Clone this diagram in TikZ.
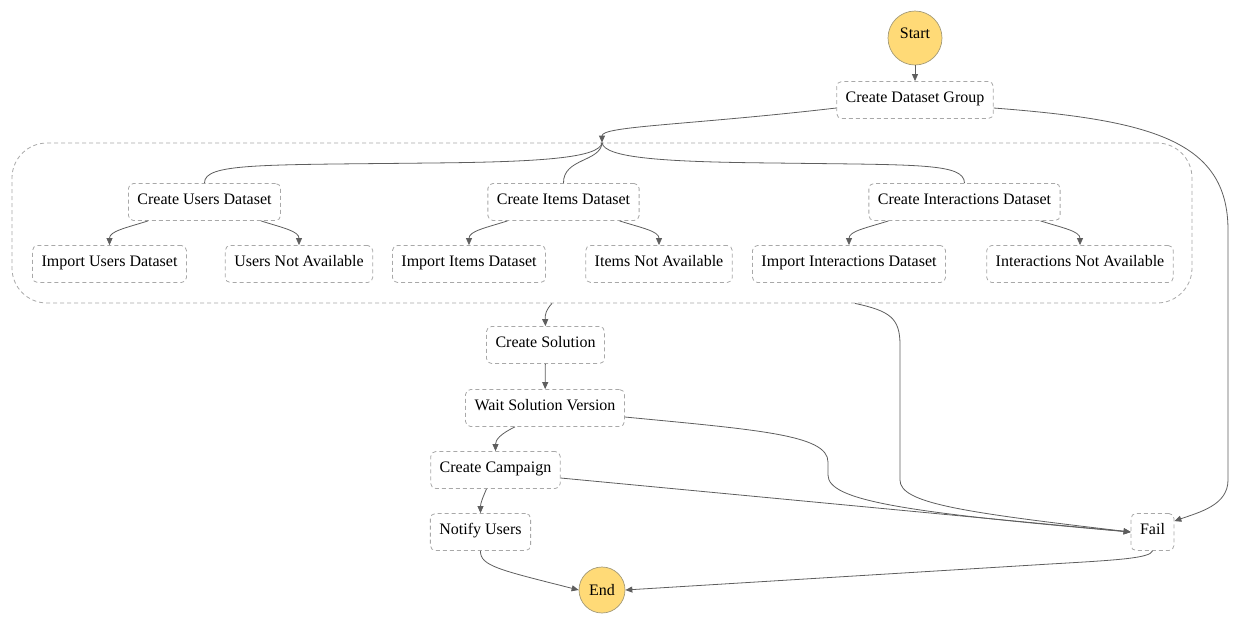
\documentclass[tikz,border=0pt]{standalone}
\usepackage{fontspec}
\setmainfont{Liberation Serif}
\usetikzlibrary{arrows.meta}
\definecolor{boxline}{HTML}{A8A8A8}
\definecolor{edgeline}{HTML}{5E5E5E}
\definecolor{termfill}{HTML}{FFDA77}
\definecolor{termline}{HTML}{A39A78}
\tikzset{
  state/.style={draw=boxline, dashed, dash pattern=on 4pt off 3pt, line width=0.8pt,
    rounded corners=5pt, inner xsep=9pt, minimum height=37pt,
    text height=11pt, text depth=6pt,
    font=\fontsize{16}{19}\selectfont},
  term/.style={circle, draw=termline, fill=termfill, line width=0.7pt, inner sep=0pt,
    font=\fontsize{16}{19}\selectfont},
  groupbox/.style={draw=boxline, dashed, dash pattern=on 4pt off 3pt, line width=0.8pt,
    rounded corners=35pt},
  edge/.style={draw=edgeline, line width=0.8pt},
  flow/.style={edge, -{Triangle[length=7pt,width=6pt]}}
}
\begin{document}
\begin{tikzpicture}[x=1pt,y=-1pt]
\useasboundingbox (0,0) rectangle (1240,630);

% terminals
\node[term, minimum size=54pt, text height=11pt, text depth=10pt] (start) at (915,38) {Start};
\node[term, minimum size=46pt] (end) at (602,590) {End};

% setup
\node[state] (cdg) at (915,100) {Create Dataset Group};

% parallel dataset branches
\node[groupbox, minimum width=1180pt, minimum height=160pt] (grp) at (602,223) {};
\node[state] (cud) at (204.5,202) {Create Users Dataset};
\node[state] (cid) at (563.5,202) {Create Items Dataset};
\node[state] (cxd) at (964.5,202) {Create Interactions Dataset};
\node[state] (iud) at (109.5,264) {Import Users Dataset};
\node[state] (una) at (299,264) {Users Not Available};
\node[state] (iid) at (469,264) {Import Items Dataset};
\node[state] (ina) at (659,264) {Items Not Available};
\node[state] (ixd) at (849,264) {Import Interactions Dataset};
\node[state] (xna) at (1080,264) {Interactions Not Available};

% training and deployment
\node[state] (cs) at (545.5,345) {Create Solution};
\node[state] (wsv) at (545,408) {Wait Solution Version};
\node[state] (cc) at (495.5,470) {Create Campaign};
\node[state] (nu) at (480.5,532) {Notify Users};
\node[state] (fail) at (1152.5,532) {Fail};

% main flow
\draw[flow] (start) -- (cdg);
\draw[flow] ([yshift=-8pt]cdg.west) .. controls (690,125) and (602,126) .. (grp.north);

% fan-out inside the group
\draw[edge] (grp.north) .. controls (600,158) and (540,162) .. (430,163)
  .. controls (260,165) and (204,163) .. (cud.north);
\draw[edge] (grp.north) .. controls (601,162) and (563,158) .. (cid.north);
\draw[edge] (grp.north) .. controls (604,158) and (664,162) .. (774,163)
  .. controls (920,165) and (964,163) .. (cxd.north);

\foreach \src/\l/\r in {cud/iud/una, cid/iid/ina, cxd/ixd/xna}{
  \draw[flow] ([xshift=20pt]\src.south west) .. controls +(-22,7) and +(0,-14) .. (\l.north);
  \draw[flow] ([xshift=-20pt]\src.south east) .. controls +(22,7) and +(0,-14) .. (\r.north);
}

\draw[flow] ([xshift=-50pt]grp.south) .. controls (546,310) and (545,314) .. (cs.north);
\draw[flow] (cs) -- (wsv);
\draw[flow] ([xshift=-30pt]wsv.south) .. controls (500,434) and (495.5,440) .. (cc.north);
\draw[flow] ([xshift=-9pt]cc.south) .. controls (483,497) and (480.5,503) .. (nu.north);
\draw[flow] (nu.south) .. controls (480,566) and (500,570) .. (end.west);

% failure paths
\draw[flow] ([yshift=-8pt]cdg.east) .. controls (1150,120) and (1228,140) .. (1228,230)
  -- (1228,480) .. controls (1228,505) and (1200,512) .. ([yshift=-8pt]fail.north east);
\draw[flow] ([xshift=253pt]grp.south) .. controls (890,311) and (900,318) .. (900,345)
  -- (900,480) .. controls (900,503) and (960,512) .. (fail.west);
\draw[flow] ([yshift=-9pt]wsv.east) .. controls (760,430) and (828,435) .. (828,462)
  -- (828,475) .. controls (828,500) and (900,512) .. (fail.west);
\draw[flow] ([yshift=-8pt]cc.east) -- (fail.west);
\draw[flow] (fail.south) .. controls (1150,558) and (1120,560) .. (1050,564) -- (end.east);
\end{tikzpicture}
\end{document}
